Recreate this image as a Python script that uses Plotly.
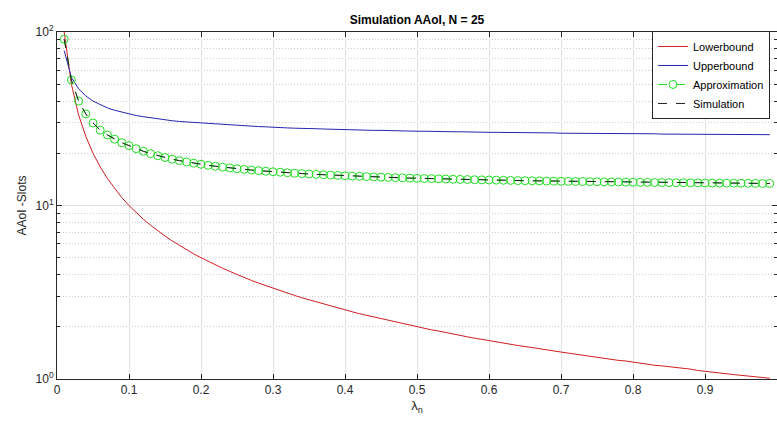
import plotly.graph_objects as go

# x values (arrival rate lambda_n)
lam = [i / 100 for i in range(1, 100)]

lowerbound = [
    100, 50, 33.3, 25, 20, 16.7, 14.3, 12.5, 11.1, 10,
    9.09, 8.33, 7.69, 7.14, 6.67, 6.25, 5.88, 5.56, 5.26, 5.00,
    4.76, 4.55, 4.35, 4.17, 4.00, 3.85, 3.70, 3.57, 3.45, 3.33,
    3.23, 3.13, 3.03, 2.94, 2.86, 2.78, 2.70, 2.63, 2.56, 2.50,
    2.44, 2.38, 2.33, 2.27, 2.22, 2.17, 2.13, 2.08, 2.04, 2.00,
    1.96, 1.92, 1.89, 1.85, 1.82, 1.79, 1.75, 1.72, 1.69, 1.67,
    1.64, 1.61, 1.59, 1.56, 1.54, 1.52, 1.49, 1.47, 1.45, 1.43,
    1.41, 1.39, 1.37, 1.35, 1.33, 1.32, 1.30, 1.28, 1.27, 1.25,
    1.23, 1.22, 1.20, 1.19, 1.18, 1.16, 1.15, 1.14, 1.12, 1.11,
    1.10, 1.09, 1.08, 1.06, 1.05, 1.04, 1.03, 1.02, 1.01,
]

upperbound = [
    78.0, 54.8, 47.1, 42.8, 40.0, 38.0, 36.5, 35.4, 34.5, 33.7,
    33.0, 32.5, 32.0, 31.6, 31.2, 30.8, 30.5, 30.3, 30.0, 29.8,
    29.6, 29.4, 29.2, 29.0, 28.9, 28.7, 28.6, 28.5, 28.4, 28.2,
    28.1, 28.0, 27.9, 27.9, 27.8, 27.7, 27.6, 27.5, 27.5, 27.4,
    27.3, 27.3, 27.2, 27.1, 27.1, 27.0, 27.0, 26.9, 26.9, 26.8,
    26.8, 26.7, 26.7, 26.7, 26.6, 26.6, 26.5, 26.5, 26.5, 26.4,
    26.4, 26.4, 26.3, 26.3, 26.3, 26.3, 26.2, 26.2, 26.2, 26.1,
    26.1, 26.1, 26.1, 26.0, 26.0, 26.0, 26.0, 26.0, 25.9, 25.9,
    25.9, 25.9, 25.9, 25.8, 25.8, 25.8, 25.8, 25.8, 25.7, 25.7,
    25.7, 25.7, 25.7, 25.7, 25.6, 25.6, 25.6, 25.6, 25.6,
]

approximation = [
    91.0, 52.9, 40.0, 33.7, 29.9, 27.2, 25.5, 24.1, 23.0, 22.15,
    21.26, 20.53, 19.90, 19.36, 18.90, 18.49, 18.14, 17.82, 17.53, 17.28,
    17.04, 16.83, 16.64, 16.46, 16.30, 16.15, 16.01, 15.88, 15.76, 15.65,
    15.55, 15.45, 15.35, 15.27, 15.19, 15.11, 15.04, 14.97, 14.90, 14.84,
    14.78, 14.72, 14.67, 14.62, 14.57, 14.52, 14.47, 14.43, 14.39, 14.35,
    14.31, 14.28, 14.24, 14.21, 14.17, 14.14, 14.11, 14.08, 14.05, 14.03,
    14.00, 13.97, 13.95, 13.92, 13.90, 13.88, 13.86, 13.83, 13.81, 13.79,
    13.77, 13.75, 13.74, 13.72, 13.70, 13.68, 13.67, 13.65, 13.63, 13.62,
    13.60, 13.59, 13.57, 13.56, 13.55, 13.53, 13.52, 13.51, 13.50, 13.48,
    13.47, 13.46, 13.45, 13.44, 13.43, 13.42, 13.41, 13.39, 13.39,
]

simulation = [
    91.0, 52.9, 40.0, 33.7, 29.9, 27.2, 25.5, 24.1, 23.0, 22.15,
    21.26, 20.53, 19.90, 19.36, 18.90, 18.49, 18.14, 17.82, 17.53, 17.28,
    17.04, 16.83, 16.64, 16.46, 16.30, 16.15, 16.01, 15.88, 15.76, 15.65,
    15.55, 15.45, 15.35, 15.27, 15.19, 15.11, 15.04, 14.97, 14.90, 14.84,
    14.78, 14.72, 14.67, 14.62, 14.57, 14.52, 14.47, 14.43, 14.39, 14.35,
    14.31, 14.28, 14.24, 14.21, 14.17, 14.14, 14.11, 14.08, 14.05, 14.03,
    14.00, 13.97, 13.95, 13.92, 13.90, 13.88, 13.86, 13.83, 13.81, 13.79,
    13.77, 13.75, 13.74, 13.72, 13.70, 13.68, 13.67, 13.65, 13.63, 13.62,
    13.60, 13.59, 13.57, 13.56, 13.55, 13.53, 13.52, 13.51, 13.50, 13.48,
    13.47, 13.46, 13.45, 13.44, 13.43, 13.42, 13.41, 13.39, 13.39,
]

x_tickvals = [0, 0.1, 0.2, 0.3, 0.4, 0.5, 0.6, 0.7, 0.8, 0.9, 1]
x_ticktext = ["0", "0.1", "0.2", "0.3", "0.4", "0.5", "0.6", "0.7", "0.8", "0.9", "1"]
y_tickvals = [1, 10, 100]
y_ticktext = ["10<sup>0</sup>", "10<sup>1</sup>", "10<sup>2</sup>"]

FONT = "Liberation Sans, Arial, Helvetica, sans-serif"
AX = "#262626"

fig = go.Figure()
fig.add_trace(go.Scatter(x=lam, y=lowerbound, mode="lines", name="Lowerbound",
                         line=dict(color="#d01f1f", width=1)))
fig.add_trace(go.Scatter(x=lam, y=upperbound, mode="lines", name="Upperbound",
                         line=dict(color="#2525b0", width=1)))
fig.add_trace(go.Scatter(x=lam, y=approximation, mode="lines+markers", name="Approximation",
                         line=dict(color="#22dd22", width=1, dash="dash"),
                         marker=dict(symbol="circle-open", size=8, color="#22dd22",
                                     line=dict(width=1, color="#22dd22"))))
fig.add_trace(go.Scatter(x=lam, y=simulation, mode="lines", name="Simulation",
                         line=dict(color="#202020", width=1, dash="dash")))

fig.update_layout(
    width=777, height=425,
    margin=dict(l=57, r=0, t=32, b=46, autoexpand=False),
    paper_bgcolor="white", plot_bgcolor="white",
    font=dict(family=FONT, size=12, color=AX),
    title=dict(text="<b>Simulation AAoI, N = 25</b>", x=0.5, xref="paper",
               y=1 - 20 / 425, yref="container", yanchor="middle", xanchor="center",
               font=dict(family=FONT, size=12, color="#000000")),
    showlegend=True,
    legend=dict(x=(652 - 57) / 720, xanchor="left", y=1.003, yanchor="top",
                bgcolor="white", bordercolor=AX, borderwidth=1,
                font=dict(family=FONT, size=11, color="#000000"),
                tracegroupgap=0, itemwidth=30),
)

fig.update_xaxes(
    range=[0, 1], tickvals=x_tickvals, ticktext=x_ticktext, automargin=False,
    showline=True, linecolor=AX, linewidth=1, mirror="ticks",
    ticks="inside", ticklen=5, tickcolor=AX,
    showgrid=True, gridcolor="#e2e2e2", gridwidth=1, zeroline=False,
    title=dict(text="λ<sub>n</sub>", standoff=4, font=dict(family=FONT, size=13, color=AX)),
)
fig.update_yaxes(
    type="log", range=[0, 2], tickvals=y_tickvals, ticktext=y_ticktext, automargin=False,
    showline=True, linecolor=AX, linewidth=1, mirror="ticks",
    ticks="inside", ticklen=5, tickcolor=AX,
    showgrid=True, gridcolor="#e2e2e2", gridwidth=1, zeroline=False,
    minor=dict(dtick="D1", ticks="inside", ticklen=3, tickcolor=AX,
               showgrid=True, gridcolor="#cccccc", griddash="1px,2px", gridwidth=1),
    title=dict(text="AAoI -Slots", standoff=6, font=dict(family=FONT, size=12, color=AX)),
)

fig.write_html("out.html", config={"displayModeBar": False},
               post_script="document.body.style.margin='0';")
